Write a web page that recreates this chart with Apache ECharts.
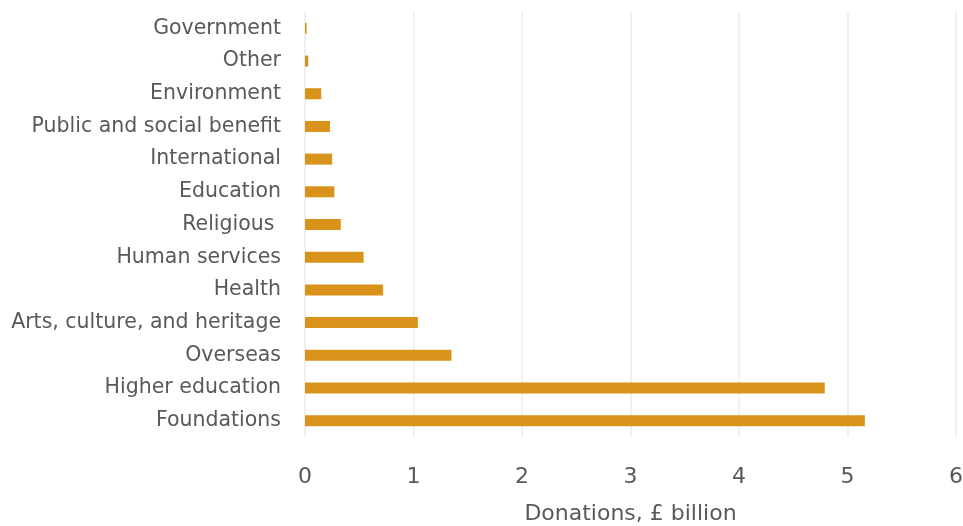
<!DOCTYPE html>
<html>
<head>
<meta charset="utf-8">
<script src="https://cdn.jsdelivr.net/npm/echarts@6/dist/echarts.min.js"></script>
<style>
  html, body { margin: 0; padding: 0; background: #ffffff; }
  #chart { width: 963px; height: 526px; }
</style>
</head>
<body>
<div id="chart"></div>
<script>
// Causes, listed top to bottom
const causes = [
  'Government', 'Other', 'Environment', 'Public and social benefit',
  'International', 'Education', 'Religious ', 'Human services', 'Health',
  'Arts, culture, and heritage', 'Overseas', 'Higher education', 'Foundations'
];
// Donations in £ billion, same order as causes
const donations = [0.015, 0.03, 0.15, 0.23, 0.25, 0.27, 0.33, 0.54, 0.72, 1.04, 1.35, 4.79, 5.16];
const xTicks = [0, 1, 2, 3, 4, 5, 6];

const textColor = '#595959';
const fontFamily = 'DejaVu Sans, sans-serif';

const chart = echarts.init(document.getElementById('chart'), null, { renderer: 'canvas' });
chart.setOption({
  animation: false,
  backgroundColor: '#ffffff',
  grid: { left: 305, right: 7, top: 12, bottom: 89, containLabel: false, outerBoundsMode: 'none' },
  xAxis: {
    type: 'value',
    min: xTicks[0],
    max: xTicks[xTicks.length - 1],
    interval: 1,
    name: 'Donations, £ billion',
    nameLocation: 'middle',
    nameGap: 66,
    nameTextStyle: { color: textColor, fontSize: 22, fontFamily },
    axisLine: { show: false },
    axisTick: { show: false },
    axisLabel: { color: textColor, fontSize: 22, fontFamily, margin: 29 },
    splitLine: { show: true, lineStyle: { color: '#f0f0f0', width: 2 } }
  },
  yAxis: {
    type: 'category',
    data: causes,
    inverse: true,
    axisLine: { show: false },
    axisTick: { show: false },
    axisLabel: { color: textColor, fontSize: 20.5, fontFamily, margin: 24 },
    splitLine: { show: false }
  },
  series: [{
    type: 'bar',
    data: donations,
    barWidth: 11,
    itemStyle: { color: '#D9921A' }
  }]
});
</script>
</body>
</html>
